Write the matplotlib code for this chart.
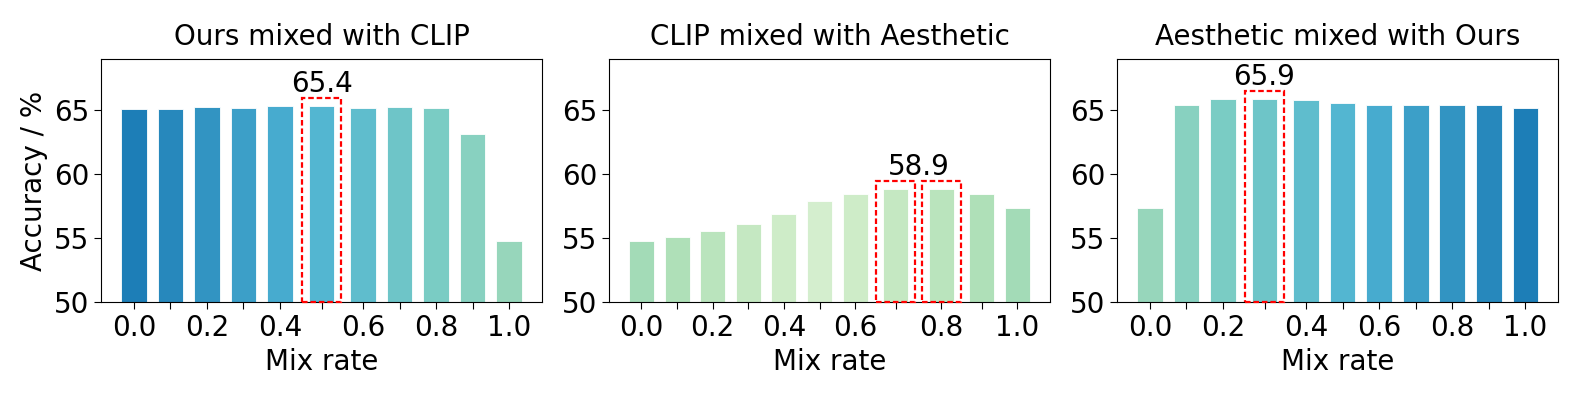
import numpy as np
import matplotlib
matplotlib.use('Agg')
import matplotlib.pyplot as plt
from matplotlib.patches import Rectangle

# data
mix_rate    = [0.0, 0.1, 0.2, 0.3, 0.4, 0.5, 0.6, 0.7, 0.8, 0.9, 1.0]
ours_clip   = [65.15, 65.15, 65.25, 65.23, 65.32, 65.37, 65.21, 65.29, 65.18, 63.17, 54.83]
clip_aes    = [54.83, 55.14, 55.58, 56.13, 56.91, 57.93, 58.50, 58.87, 58.87, 58.45, 57.36]
aes_ours    = [57.36, 65.42, 65.86, 65.91, 65.78, 65.60, 65.44, 65.44, 65.39, 65.39, 65.18]
titles      = ["Ours mixed with CLIP", "CLIP mixed with Aesthetic", "Aesthetic mixed with Ours"]
best_idx    = [[5], [7, 8], [3]]
best_label  = ["65.4", "58.9", "65.9"]
yticks      = [50, 55, 60, 65]

# bar colours taken from the GnBu map
t1 = np.linspace(0.8, 0.425, 11)
t2 = 0.2 + 0.0375 * np.abs(np.arange(11) - 5)
t3 = t1[::-1]
colors = [plt.cm.GnBu(t1), plt.cm.GnBu(t2), plt.cm.GnBu(t3)]

fs = 20
fig = plt.figure(figsize=(15.78, 3.95), dpi=100)
boxes = [[0.0640, 0.2347, 0.2795, 0.6152],
         [0.3859, 0.2347, 0.2795, 0.6152],
         [0.7079, 0.2347, 0.2795, 0.6152]]

gap = 0.14
for k, vals in enumerate([ours_clip, clip_aes, aes_ours]):
    ax = fig.add_axes(boxes[k])
    # highlighted bars get a little extra room on both sides
    pos = []
    shift = 0.0
    for i in range(len(vals)):
        if i in best_idx[k]:
            pos.append(i + shift + gap)
            shift += 2 * gap
        else:
            pos.append(i + shift)
    pos = np.array(pos)
    ax.bar(pos, np.array(vals) - 50, bottom=50, width=0.7, color=colors[k],
           edgecolor='white', linewidth=0.6)
    for i in best_idx[k]:
        ax.add_patch(Rectangle((pos[i] - 0.54, 50), 1.08, vals[i] + 0.62 - 50, fill=False,
                               edgecolor='red', linestyle=(0, (2.5, 1.3)), linewidth=1.6,
                               clip_on=False, zorder=3))
    xc = np.mean([pos[i] for i in best_idx[k]])
    ax.text(xc, vals[best_idx[k][0]] + 1.1, best_label[k], ha='center', va='baseline',
            fontsize=fs)
    ax.set_ylim(50, 69)
    ax.set_yticks(yticks)
    ax.set_xticks(pos)
    ax.set_xticklabels([f"{m:.1f}" if i % 2 == 0 else "" for i, m in enumerate(mix_rate)])
    ax.tick_params(axis='both', labelsize=fs, length=5)
    ax.set_title(titles[k], fontsize=fs, pad=10)
    ax.set_xlabel("Mix rate", fontsize=fs)
    if k == 0:
        ax.set_ylabel("Accuracy / %", fontsize=fs)

fig.savefig("out.png", dpi=100)
